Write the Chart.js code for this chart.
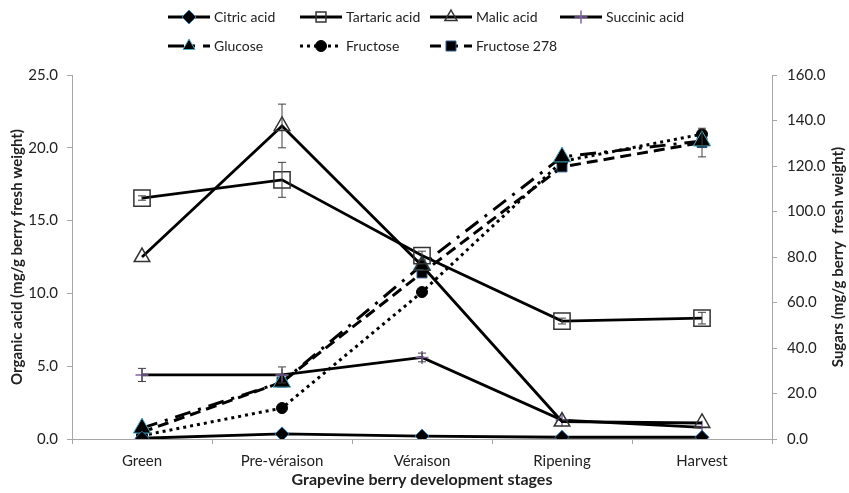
<!DOCTYPE html>
<html>
<head>
<meta charset="utf-8">
<script src="https://cdn.jsdelivr.net/npm/chart.js@4.4.1/dist/chart.umd.min.js"></script>
<style>
    html, body { margin: 0; padding: 0; background: #fff; }
    #wrap { width: 849px; height: 493px; }
</style>
</head>
<body>
<div id="wrap"><canvas id="berryChart"></canvas></div>
<script>
// Grapevine berry stages
const stages = ['Green', 'Pre-véraison', 'Véraison', 'Ripening', 'Harvest'];

// Organic acids (mg/g berry fresh weight), left axis
const citricAcid = [0.05, 0.35, 0.2, 0.12, 0.12];
const tartaricAcid = [16.55, 17.8, 12.6, 8.1, 8.3];
const tartaricErr = [0.15, 1.2, 0.3, 0.2, 0.4];
const malicAcid = [12.5, 21.5, 11.9, 1.2, 1.1];
const malicErr = [0, 1.5, 0, 0, 0];
const succinicAcid = [4.4, 4.4, 5.6, 1.3, 0.8];
const succinicErr = [0.45, 0.55, 0.3, 0, 0];

// Sugars (mg/g berry fresh weight), right axis
const glucose = [4.8, 25, 76.5, 124, 131];
const fructose = [1.5, 13.6, 64.6, 122, 134];
const fructose278 = [3, 25, 73, 119.6, 130.3];
const fructose278Err = [0, 0, 0, 0, 6.3];

const acidTicks = [0, 5, 10, 15, 20, 25];
const sugarTicks = [0, 20, 40, 60, 80, 100, 120, 140, 160];

const FONT = 'Lato, "Open Sans", sans-serif';

// error bars drawn through the dataset's own scale
const errorBars = {
    id: 'errorBars',
    afterDatasetsDraw(chart) {
        const ctx = chart.ctx;
        chart.data.datasets.forEach((ds, i) => {
            if (!ds.errors) return;
            const meta = chart.getDatasetMeta(i);
            const yScale = chart.scales[ds.yAxisID];
            ctx.save();
            ctx.strokeStyle = '#404040';
            ctx.lineWidth = 1;
            meta.data.forEach((pt, j) => {
                const e = ds.errors[j];
                if (!e) return;
                const top = yScale.getPixelForValue(ds.data[j] + e);
                const bot = yScale.getPixelForValue(ds.data[j] - e);
                ctx.beginPath();
                ctx.moveTo(pt.x, top); ctx.lineTo(pt.x, bot);
                ctx.moveTo(pt.x - 4, top); ctx.lineTo(pt.x + 4, top);
                ctx.moveTo(pt.x - 4, bot); ctx.lineTo(pt.x + 4, bot);
                ctx.stroke();
            });
            ctx.restore();
        });
    }
};

// Excel-like legend: line sample with marker, laid out in columns
const legendCols = [168, 300, 430, 560];
const legendRows = [17, 46];
const lineLegend = {
    id: 'lineLegend',
    afterDraw(chart) {
        const ctx = chart.ctx;
        chart.data.datasets.forEach((ds, i) => {
            const row = i < 4 ? 0 : 1;
            const x0 = legendCols[i < 4 ? i : i - 4];
            const y = legendRows[row];
            ctx.save();
            ctx.strokeStyle = ds.borderColor;
            ctx.lineWidth = ds.borderWidth;
            ctx.setLineDash(ds.borderDash || []);
            ctx.beginPath();
            ctx.moveTo(x0, y);
            ctx.lineTo(x0 + 42, y);
            ctx.stroke();
            ctx.setLineDash([]);
            ctx.fillStyle = ds.pointBackgroundColor;
            ctx.strokeStyle = ds.pointBorderColor;
            ctx.lineWidth = ds.pointBorderWidth;
            Chart.helpers.drawPoint(ctx, {
                pointStyle: ds.pointStyle,
                radius: Math.min(ds.pointRadius, 7),
                rotation: 0,
                borderWidth: ds.pointBorderWidth
            }, x0 + 21, y);
            ctx.fillStyle = '#222';
            ctx.font = '14px ' + FONT;
            ctx.textBaseline = 'middle';
            ctx.fillText(ds.label, x0 + 46, y);
            ctx.restore();
        });
    }
};

// right axis title reads bottom-to-top like the left one
const rightTitle = {
    id: 'rightTitle',
    afterDraw(chart) {
        const ctx = chart.ctx;
        const area = chart.chartArea;
        ctx.save();
        ctx.translate(838, (area.top + area.bottom) / 2);
        ctx.rotate(-Math.PI / 2);
        ctx.font = 'bold 15px ' + FONT;
        ctx.fillStyle = '#222';
        ctx.textAlign = 'center';
        ctx.textBaseline = 'middle';
        ctx.fillText('Sugars (mg/g berry  fresh weight)', 0, 0);
        ctx.restore();
    }
};

function series(label, data, axis, opts) {
    return Object.assign({
        label: label,
        data: data,
        yAxisID: axis,
        borderColor: '#000',
        borderWidth: 2.8,
        pointBackgroundColor: '#000',
        pointBorderColor: '#000',
        pointBorderWidth: 1,
        pointHoverRadius: 0,
        tension: 0,
        fill: false
    }, opts);
}

const ctx = document.getElementById('berryChart').getContext('2d');
const berryChart = new Chart(ctx, {
    type: 'line',
    data: {
        labels: stages,
        datasets: [
            series('Citric acid', citricAcid, 'y', {
                pointStyle: 'rectRot', pointRadius: 7, pointBorderColor: '#2e75b6'
            }),
            series('Tartaric acid', tartaricAcid, 'y', {
                pointStyle: 'rect', pointRadius: 11.5, pointBackgroundColor: 'rgba(255,255,255,0)',
                pointBorderColor: '#333', pointBorderWidth: 1.5, errors: tartaricErr
            }),
            series('Malic acid', malicAcid, 'y', {
                pointStyle: 'triangle', pointRadius: 9, pointBackgroundColor: 'rgba(255,255,255,0)',
                pointBorderColor: '#333', pointBorderWidth: 1.5, errors: malicErr
            }),
            series('Succinic acid', succinicAcid, 'y', {
                pointStyle: 'cross', pointRadius: 6.5, pointBorderColor: '#8064a2',
                pointBorderWidth: 1.5, errors: succinicErr
            }),
            series('Glucose', glucose, 'y1', {
                borderWidth: 3, borderDash: [16, 8, 3, 8],
                pointStyle: 'triangle', pointRadius: 10, pointBorderColor: '#4bacc6'
            }),
            series('Fructose', fructose, 'y1', {
                borderWidth: 3, borderDash: [3, 4],
                pointStyle: 'circle', pointRadius: 5.5
            }),
            series('Fructose 278', fructose278, 'y1', {
                borderWidth: 3, borderDash: [11, 6],
                pointStyle: 'rect', pointRadius: 7, pointBorderColor: '#1f497d',
                errors: fructose278Err
            })
        ]
    },
    options: {
        responsive: true,
        maintainAspectRatio: false,
        animation: false,
        layout: { padding: { top: 75, left: 0, right: 0, bottom: 0 } },
        plugins: {
            legend: { display: false },
            tooltip: { enabled: false }
        },
        scales: {
            x: {
                offset: true,
                grid: { display: true, drawOnChartArea: false, offset: true, tickLength: 5, color: '#a6a6a6' },
                border: { color: '#a6a6a6' },
                ticks: { color: '#222', font: { family: FONT, size: 15 }, padding: 8, maxRotation: 0 },
                title: {
                    display: true, text: 'Grapevine berry development stages', color: '#222',
                    font: { family: FONT, size: 16, weight: 'bold' }, padding: { top: 3 }
                },
                afterFit: s => { s.height = 54; }
            },
            y: {
                position: 'left',
                min: 0, max: 25,
                afterBuildTicks: s => { s.ticks = acidTicks.map(v => ({ value: v })); },
                grid: { drawOnChartArea: false, tickLength: 5, color: '#a6a6a6' },
                border: { color: '#a6a6a6' },
                ticks: { color: '#222', font: { family: FONT, size: 15 }, padding: 9, callback: v => v.toFixed(1) },
                title: {
                    display: true, text: 'Organic acid (mg/g berry fresh weight)', color: '#222',
                    font: { family: FONT, size: 15, weight: 'bold' }, padding: { top: 8, bottom: 0 }
                },
                afterFit: s => { s.width = 72; }
            },
            y1: {
                position: 'right',
                min: 0, max: 160,
                afterBuildTicks: s => { s.ticks = sugarTicks.map(v => ({ value: v })); },
                grid: { drawOnChartArea: false, tickLength: 5, color: '#a6a6a6' },
                border: { color: '#a6a6a6' },
                ticks: { color: '#222', font: { family: FONT, size: 15 }, padding: 10, callback: v => v.toFixed(1) },
                afterFit: s => { s.width = 77; }
            }
        }
    },
    plugins: [errorBars, lineLegend, rightTitle]
});
</script>
</body>
</html>
